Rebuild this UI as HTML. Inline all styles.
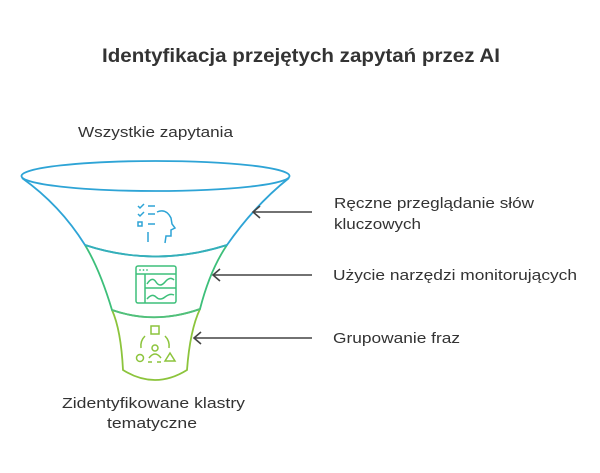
<!DOCTYPE html>
<html><head><meta charset="utf-8"><style>
html,body{margin:0;padding:0;background:#fff;}
svg{display:block;}
text{font-family:"Liberation Sans",sans-serif;fill:#333;}
</style></head><body>
<svg width="600" height="473" viewBox="0 0 600 473" xmlns="http://www.w3.org/2000/svg">
<text x="102" y="62" font-size="19" font-weight="bold" fill="#3a3a3a" textLength="398" lengthAdjust="spacingAndGlyphs">Identyfikacja przejętych zapytań przez AI</text>
<text x="78" y="137" font-size="15" textLength="155" lengthAdjust="spacingAndGlyphs">Wszystkie zapytania</text>

<path d="M112 310 Q121 330 123 370 Q155 390 187 370 Q190 330 200 309" fill="none" stroke="#8cc43c" stroke-width="1.8"/>
<path d="M85 245 Q100 270 112 310 Q155 325 200 309 Q210 270 227 245" fill="none" stroke="#3dbf7a" stroke-width="1.8"/>
<path d="M112 310 Q155 325 200 309" fill="none" stroke="#52c07a" stroke-width="1.8"/>
<path d="M22 178 Q60 205 85 245 Q155 268 227 245 Q255 205 289 178" fill="none" stroke="#2ea4d6" stroke-width="1.8"/>
<path d="M85 245 Q155 268 227 245" fill="none" stroke="#35b0b8" stroke-width="1.8"/>
<ellipse cx="155.5" cy="176" rx="134" ry="15" fill="none" stroke="#2ea4d6" stroke-width="1.8"/>

<g stroke="#2ea4d6" stroke-width="1.5" fill="none">
<path d="M138 206 l2 2 l4 -4 M138 214 l2 2 l4 -4"/>
<rect x="138" y="222" width="4" height="4"/>
<path d="M148 206 h7 M148 214 h7 M148 224 h7 M148 232 v10"/>
<path d="M157 212 Q166 208 171 218 L172 224 L175 228 L171 230 L171 236 L166 236 L165 243"/>
</g>
<g stroke="#3dbf7a" stroke-width="1.5" fill="none">
<rect x="136" y="266" width="40" height="37" rx="2"/>
<path d="M136 274 h40 M145 274 v29 M145 288 h31"/>
<path d="M147 284 q5 -8 9 -2 t9 0 t9 -2 M147 299 q5 -6 9 -2 t9 0 t9 -2"/>
</g>
<g fill="#3dbf7a"><circle cx="140" cy="270" r="0.9"/><circle cx="143.5" cy="270" r="0.9"/><circle cx="147" cy="270" r="0.9"/></g>
<g stroke="#8cc43c" stroke-width="1.5" fill="none">
<rect x="151" y="326" width="8" height="8"/>
<circle cx="155" cy="348" r="3"/>
<path d="M149 358 q6 -8 12 0"/>
<circle cx="140" cy="358" r="3.5"/>
<path d="M165 361 l5 -8 l5 8 z"/>
<path d="M145 336 q-5 5 -4 12 M165 336 q5 5 4 12 M148 362 h4 M157 362 h4"/>
</g>

<g stroke="#444" stroke-width="1.6" fill="none">
<path d="M253 212 H312 M260 206 L253 212 L260 218"/>
<path d="M213 275 H312 M220 269 L213 275 L220 281"/>
<path d="M194 338 H312 M201 332 L194 338 L201 344"/>
</g>
<text x="334" y="208" font-size="15" textLength="200" lengthAdjust="spacingAndGlyphs">Ręczne przeglądanie słów</text>
<text x="334" y="229" font-size="15" textLength="87" lengthAdjust="spacingAndGlyphs">kluczowych</text>
<text x="333" y="280" font-size="15" textLength="244" lengthAdjust="spacingAndGlyphs">Użycie narzędzi monitorujących</text>
<text x="333" y="343" font-size="15" textLength="127" lengthAdjust="spacingAndGlyphs">Grupowanie fraz</text>
<text x="62" y="408" font-size="15" textLength="183" lengthAdjust="spacingAndGlyphs">Zidentyfikowane klastry</text>
<text x="107" y="428" font-size="15" textLength="90" lengthAdjust="spacingAndGlyphs">tematyczne</text>
</svg>
</body></html>
